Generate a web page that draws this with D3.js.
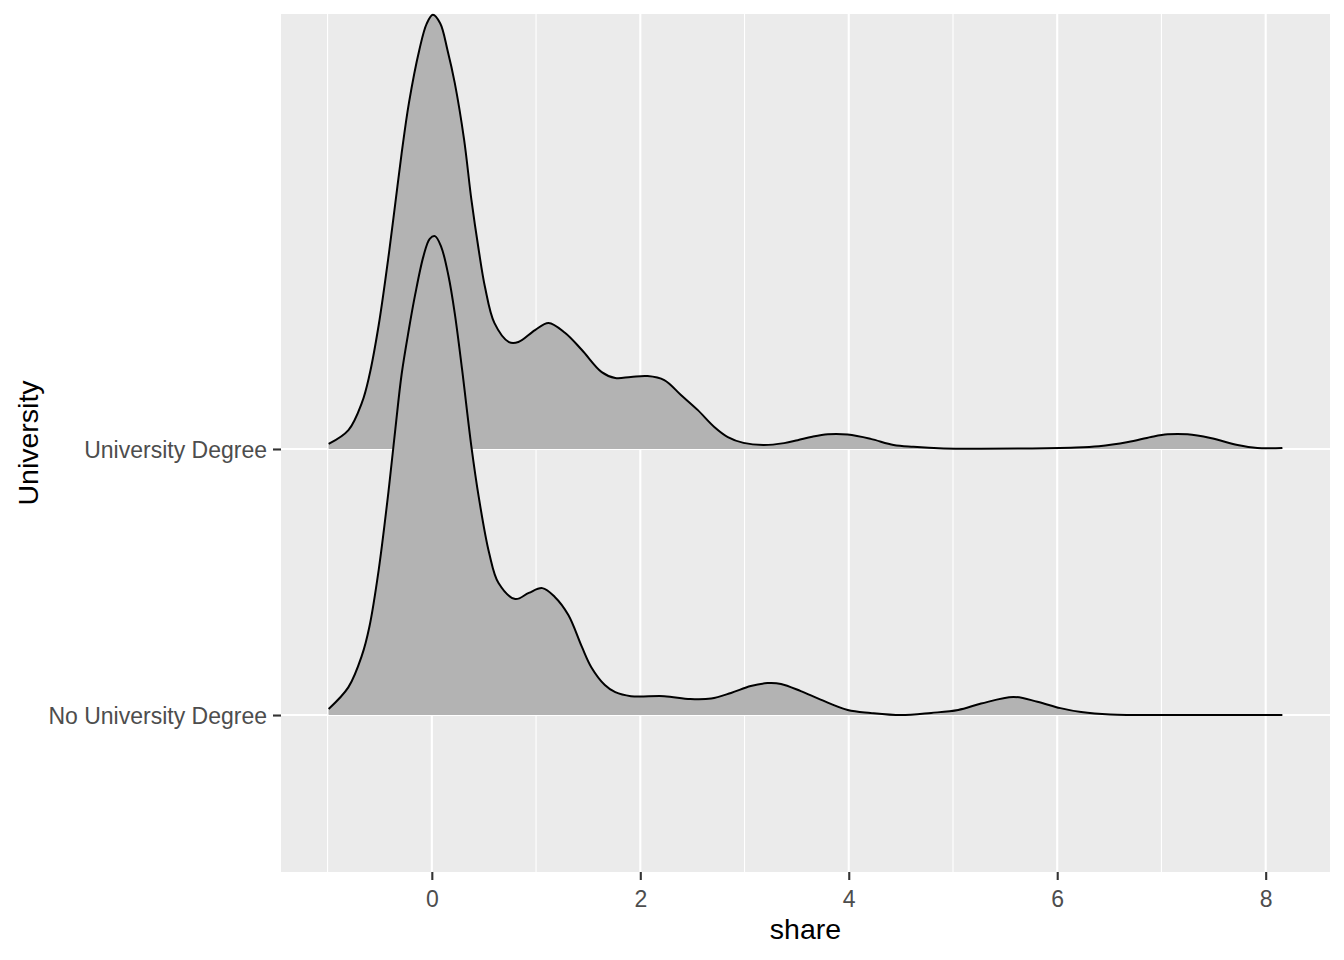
<!DOCTYPE html>
<html>
<head>
<meta charset="utf-8">
<script src="https://cdn.jsdelivr.net/npm/d3@7"></script>
<style>
  body { margin: 0; background: #fff; }
  text { font-family: "Liberation Sans", Arial, sans-serif; }
</style>
</head>
<body>
<div id="chart"></div>
<script>
// categories, bottom to top
var categories = ["No University Degree", "University Degree"];

// ridge profiles: share value and scaled density height
var uniShare = [-0.99, -0.80, -0.67, -0.60, -0.51, -0.41, -0.35, -0.29, -0.22, -0.12, -0.05, 0.01, 0.08, 0.15, 0.22, 0.31, 0.38, 0.45, 0.51, 0.60, 0.74, 0.83, 0.99, 1.12, 1.28, 1.44, 1.63, 1.76, 1.91, 2.07, 2.23, 2.39, 2.55, 2.71, 2.84, 2.99, 3.18, 3.38, 3.51, 3.65, 3.80, 3.99, 4.21, 4.43, 4.62, 4.91, 5.27, 6.13, 6.40, 6.68, 6.90, 7.06, 7.25, 7.47, 7.73, 7.92, 8.16];
var uniDensity = [0.019, 0.071, 0.175, 0.275, 0.465, 0.740, 0.925, 1.110, 1.300, 1.500, 1.598, 1.632, 1.600, 1.500, 1.376, 1.162, 0.936, 0.748, 0.609, 0.474, 0.402, 0.402, 0.447, 0.474, 0.436, 0.372, 0.289, 0.267, 0.271, 0.274, 0.259, 0.203, 0.147, 0.083, 0.045, 0.023, 0.015, 0.022, 0.033, 0.046, 0.055, 0.054, 0.038, 0.015, 0.008, 0.002, 0.001, 0.005, 0.010, 0.026, 0.045, 0.055, 0.055, 0.041, 0.015, 0.004, 0.004];

var noUniShare = [-0.99, -0.80, -0.67, -0.60, -0.51, -0.41, -0.35, -0.29, -0.22, -0.16, -0.08, -0.02, 0.03, 0.09, 0.16, 0.22, 0.29, 0.38, 0.45, 0.55, 0.64, 0.80, 0.93, 1.06, 1.18, 1.31, 1.44, 1.53, 1.66, 1.76, 1.91, 2.23, 2.48, 2.68, 2.87, 3.06, 3.22, 3.35, 3.54, 3.73, 3.99, 4.21, 4.50, 4.79, 5.05, 5.27, 5.58, 5.81, 6.03, 6.23, 6.51, 7.38, 8.16];
var noUniDensity = [0.023, 0.105, 0.225, 0.330, 0.545, 0.860, 1.075, 1.280, 1.450, 1.580, 1.725, 1.790, 1.800, 1.760, 1.650, 1.510, 1.300, 1.008, 0.820, 0.609, 0.496, 0.436, 0.459, 0.477, 0.444, 0.376, 0.256, 0.180, 0.113, 0.086, 0.071, 0.071, 0.060, 0.062, 0.083, 0.109, 0.120, 0.117, 0.090, 0.058, 0.019, 0.008, 0.000, 0.008, 0.019, 0.043, 0.068, 0.050, 0.026, 0.011, 0.002, 0.0005, 0.0];

var xTicks = [0, 2, 4, 6, 8];
var xMinor = [-1, 1, 3, 5, 7];

var svgWidth = 1344;
var svgHeight = 960;

var margin = { top: 14, right: 14, bottom: 88, left: 281 };
var width = svgWidth - margin.left - margin.right;
var height = svgHeight - margin.top - margin.bottom;

var svg = d3.select("#chart")
  .append("svg")
  .attr("width", svgWidth)
  .attr("height", svgHeight);

var chartGroup = svg.append("g")
  .attr("transform", `translate(${margin.left}, ${margin.top})`);

// scales
var xScale = d3.scaleLinear()
  .domain([-1.447, 8.617])
  .range([0, width]);

// category index 0,1 with ridge heights added on top
var yScale = d3.scaleLinear()
  .domain([-0.59, 2.635])
  .range([height, 0]);

// panel
chartGroup.append("rect")
  .attr("width", width)
  .attr("height", height)
  .attr("fill", "#EBEBEB");

chartGroup.selectAll(".minor")
  .data(xMinor).enter()
  .append("line")
  .attr("x1", d => xScale(d)).attr("x2", d => xScale(d))
  .attr("y1", 0).attr("y2", height)
  .attr("stroke", "#fff").attr("stroke-width", 1.1);

chartGroup.selectAll(".major")
  .data(xTicks).enter()
  .append("line")
  .attr("x1", d => xScale(d)).attr("x2", d => xScale(d))
  .attr("y1", 0).attr("y2", height)
  .attr("stroke", "#fff").attr("stroke-width", 2.1);

chartGroup.selectAll(".hgrid")
  .data(categories).enter()
  .append("line")
  .attr("x1", 0).attr("x2", width)
  .attr("y1", (d, i) => yScale(i)).attr("y2", (d, i) => yScale(i))
  .attr("stroke", "#fff").attr("stroke-width", 2.1);

// ridges, top one first so the lower one sits over it
var ridges = [
  { idx: 1, pts: d3.zip(uniShare, uniDensity) },
  { idx: 0, pts: d3.zip(noUniShare, noUniDensity) }
];

ridges.forEach(function(r) {
  var area = d3.area()
    .x(d => xScale(d[0]))
    .y0(yScale(r.idx))
    .y1(d => Math.min(yScale(r.idx), yScale(r.idx + d[1])))
    .curve(d3.curveCatmullRom.alpha(0.5));
  var line = d3.line()
    .x(d => xScale(d[0]))
    .y(d => Math.min(yScale(r.idx), yScale(r.idx + d[1])))
    .curve(d3.curveCatmullRom.alpha(0.5));

  chartGroup.append("path")
    .attr("d", area(r.pts))
    .attr("fill", "#B3B3B3");
  chartGroup.append("path")
    .attr("d", line(r.pts))
    .attr("fill", "none")
    .attr("stroke", "#000")
    .attr("stroke-width", 2);
});

// axes
var bottomAxis = d3.axisBottom(xScale).tickValues(xTicks).tickSize(8).tickPadding(5).tickFormat(d3.format("d"));
var xAxisG = chartGroup.append("g")
  .attr("transform", `translate(0, ${height})`)
  .call(bottomAxis);

var yPoint = d3.scaleOrdinal().domain(categories).range(categories.map((c, i) => yScale(i)));
var leftAxis = d3.axisLeft(yPoint).tickSize(8).tickPadding(6);
var yAxisG = chartGroup.append("g")
  .call(leftAxis);

[xAxisG, yAxisG].forEach(function(g) {
  g.select(".domain").remove();
  g.selectAll(".tick line").attr("stroke", "#333333").attr("stroke-width", 2.1);
  g.selectAll(".tick text")
    .attr("fill", "#4D4D4D")
    .attr("font-size", "23px")
    .attr("font-family", "Liberation Sans, Arial, sans-serif");
});
xAxisG.selectAll(".tick text").attr("dy", "0.94em");
yAxisG.selectAll(".tick text").attr("dy", "0.36em");

// axis titles
svg.append("text")
  .attr("x", margin.left + width / 2)
  .attr("y", 939)
  .attr("text-anchor", "middle")
  .attr("font-size", "28.5px")
  .attr("fill", "#000")
  .text("share");

svg.append("text")
  .attr("transform", `translate(38, ${margin.top + height / 2}) rotate(-90)`)
  .attr("text-anchor", "middle")
  .attr("font-size", "28.5px")
  .attr("fill", "#000")
  .text("University");
</script>
</body>
</html>
